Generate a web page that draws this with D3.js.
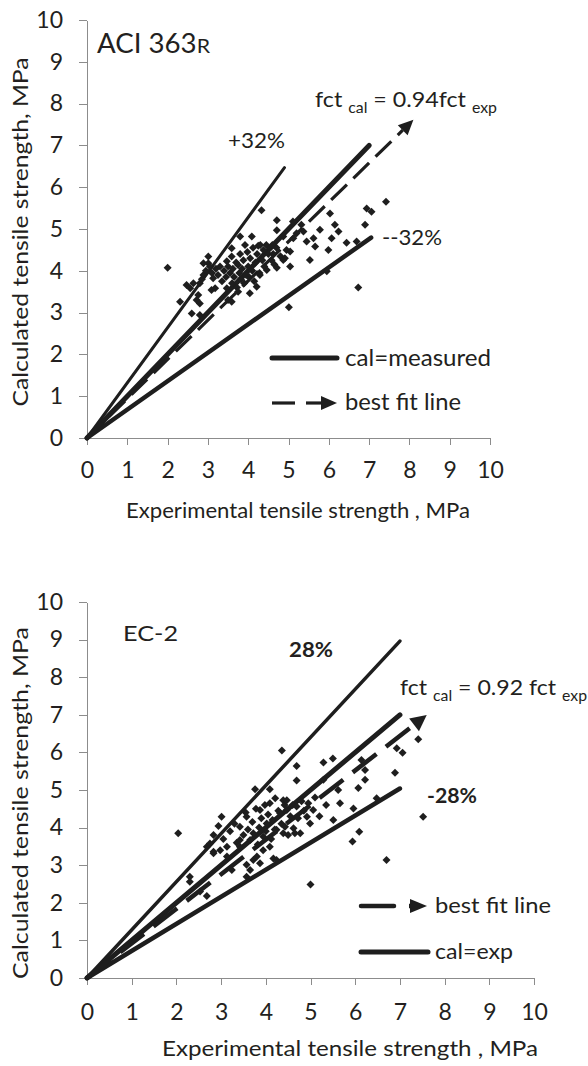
<!DOCTYPE html>
<html><head><meta charset="utf-8">
<script src="https://cdn.jsdelivr.net/npm/d3@7"></script>
<style>
body{margin:0;background:#fff}
svg{display:block}
text{font-family:Lato,'Open Sans',sans-serif;fill:#231f20}
</style>
</head><body>
<svg id="c" width="588" height="1066"></svg>
<script>
// ---------- data ----------
const tickValues = [0,1,2,3,4,5,6,7,8,9,10];

// ACI 363R: experimental vs calculated tensile strength (MPa)
const aciExp = [2.0,2.31,2.47,2.56,2.60,2.64,2.72,2.76,2.80,2.80,2.80,2.85,2.89,2.89,2.95,3.01,3.01,3.05,3.09,3.10,
  3.13,3.18,3.20,3.25,3.30,3.35,3.40,3.45,3.47,3.47,3.50,3.50,3.55,3.59,3.59,3.59,3.60,3.62,3.65,3.70,
  3.72,3.75,3.75,3.78,3.80,3.80,3.82,3.85,3.88,3.90,3.92,3.95,3.98,4.00,4.02,4.04,4.05,4.09,4.10,4.12,
  4.15,4.18,4.21,4.22,4.25,4.28,4.29,4.30,4.33,4.35,4.38,4.40,4.45,4.46,4.50,4.55,4.58,4.60,4.62,4.65,
  4.70,4.71,4.71,4.71,4.80,4.87,4.87,4.91,4.95,5.01,5.04,5.04,5.11,5.12,5.20,5.32,5.37,5.45,5.53,5.62,
  5.66,5.78,5.95,5.99,6.03,6.07,6.15,6.24,6.44,6.69,6.73,6.90,6.94,7.06,7.42];
const aciCal = [4.07,3.26,3.66,3.58,2.98,3.70,3.30,3.42,3.70,3.22,2.94,3.80,4.18,3.90,4.00,4.34,4.18,4.10,3.54,3.95,
  3.82,3.58,4.05,3.90,4.10,3.75,4.00,3.85,4.23,3.58,3.30,4.10,3.95,4.54,4.34,3.26,3.70,4.05,3.85,4.20,
  3.60,4.14,3.50,3.95,4.82,4.40,3.80,4.05,4.25,3.70,4.62,3.90,4.45,4.10,3.85,3.46,4.30,4.82,4.00,4.55,
  3.75,4.20,3.62,4.40,4.60,3.95,3.90,4.62,5.45,4.25,4.50,4.10,4.62,4.02,4.40,4.55,4.25,4.62,4.40,4.15,
  4.55,5.21,4.97,4.07,4.35,4.82,4.26,4.30,4.50,3.13,4.46,4.10,5.18,4.78,4.90,5.10,4.94,4.70,4.26,4.78,
  4.58,4.98,3.99,4.50,5.37,4.78,5.10,4.94,4.67,4.70,3.60,5.10,5.49,5.41,5.65];

// EC-2
const ec2Exp = [2.04,2.30,2.30,2.53,2.68,2.68,2.75,2.83,2.83,2.83,2.94,2.98,3.01,3.05,3.13,3.13,3.20,3.24,3.30,3.35,
  3.42,3.42,3.42,3.50,3.55,3.57,3.57,3.57,3.60,3.65,3.65,3.70,3.72,3.72,3.76,3.78,3.80,3.82,3.85,3.87,
  3.87,3.90,3.94,3.94,3.98,4.00,4.02,4.05,4.09,4.09,4.09,4.12,4.15,4.17,4.20,4.21,4.24,4.24,4.28,4.32,
  4.35,4.36,4.39,4.39,4.42,4.43,4.47,4.47,4.50,4.55,4.60,4.62,4.65,4.69,4.69,4.69,4.72,4.77,4.80,4.85,
  4.92,4.95,4.99,5.00,5.06,5.10,5.20,5.29,5.29,5.35,5.50,5.51,5.62,5.66,5.94,5.96,6.07,6.09,6.14,6.22,
  6.22,6.48,6.70,6.89,6.93,7.06,7.41,7.52];
const ec2Cal = [3.85,2.69,2.56,2.30,2.18,3.49,3.58,3.80,3.36,3.32,4.04,3.40,4.29,3.70,3.23,3.49,3.90,2.87,4.10,3.60,
  3.49,4.02,3.67,3.80,4.40,4.29,3.01,2.69,3.95,3.67,2.87,4.15,3.85,3.14,5.02,4.50,3.23,3.55,4.00,4.47,
  3.05,4.25,3.76,3.40,4.60,3.90,4.11,4.35,5.02,4.65,3.49,3.70,4.20,3.18,3.95,4.78,3.94,3.14,4.45,4.38,
  4.10,6.05,4.73,3.85,4.60,4.02,4.47,4.73,3.80,4.30,4.60,3.98,3.85,5.64,5.25,4.56,4.25,3.85,4.70,4.45,
  4.29,4.65,4.11,2.49,4.47,4.80,4.30,5.73,5.27,4.60,5.84,4.20,5.00,4.65,3.63,4.51,5.05,3.89,5.80,5.53,
  5.27,4.78,3.14,5.46,6.11,5.99,6.35,4.29];

// reference lines: slope and end point (experimental value)
const aciSlopes = [1.32, 1.00, 0.68];
const aciEnds   = [4.9, 7.0, 7.05];
const aciFitSlope = 0.94, aciFitEnd = 8.1;
const ec2Slopes = [1.28, 1.00, 0.72];
const ec2Ends   = [7.0, 7.0, 7.0];
const ec2FitSlope = 0.92, ec2FitEnd = 7.6;

// ---------- drawing ----------
const svg = d3.select("#c");
const INK = "#1e1e1e";

function label(g, x, y, size, txt, width, bold){
  const el = g.append("text").attr("x",x).attr("y",y).attr("font-size",size).text(txt);
  if (bold) el.attr("font-weight","bold");
  if (width) el.attr("textLength",width).attr("lengthAdjust","spacingAndGlyphs");
  return el;
}

function drawChart(cfg){
  const g = svg.append("g");
  const x = d3.scaleLinear().domain([0,10]).range(cfg.xr);
  const y = d3.scaleLinear().domain([0,10]).range(cfg.yr);

  const ya = g.append("g").attr("transform",`translate(${cfg.xr[0]},0)`)
    .call(d3.axisLeft(y).tickValues(tickValues).tickSize(8).tickPadding(16).tickSizeOuter(0));
  const xa = g.append("g").attr("transform",`translate(0,${cfg.yr[0]})`)
    .call(d3.axisBottom(x).tickValues(tickValues).tickSize(7).tickPadding(cfg.xpad).tickSizeOuter(0));
  [ya,xa].forEach(a=>{
    a.selectAll("path,line").attr("stroke","#8c8c8c").attr("stroke-width",1).attr("shape-rendering","crispEdges");
    a.selectAll("text").attr("font-size",23).attr("fill","#231f20").style("font-family","Lato");
  });

  cfg.slopes.forEach((s,i)=>{
    g.append("line")
      .attr("x1",x(0)).attr("y1",y(0))
      .attr("x2",x(cfg.ends[i])).attr("y2",y(s*cfg.ends[i]))
      .attr("stroke",INK).attr("stroke-width",cfg.widths[i]).attr("stroke-linecap","round");
  });

  const fx = x(cfg.fitEnd), fy = y(cfg.fitSlope*cfg.fitEnd);
  const ox = x(0), oy = y(0);
  const L = Math.hypot(fx-ox, fy-oy), ux=(fx-ox)/L, uy=(fy-oy)/L;
  const ah = cfg.arrowLen, aw = cfg.arrowW;
  const bx = fx-ux*ah, by = fy-uy*ah;
  g.append("line").attr("x1",ox).attr("y1",oy).attr("x2",bx).attr("y2",by)
    .attr("stroke",INK).attr("stroke-width",cfg.dashW).attr("stroke-dasharray",cfg.dash);
  g.append("path")
    .attr("d",`M${fx},${fy}L${bx-uy*aw},${by+ux*aw}L${bx+uy*aw},${by-ux*aw}Z`)
    .attr("fill",INK);

  const sym = d3.symbol().type(d3.symbolSquare).size(32);
  g.append("g").selectAll("path").data(cfg.xs.map((v,i)=>[v,cfg.ys[i]])).join("path")
    .attr("d",sym)
    .attr("transform",d=>`translate(${x(d[0])},${y(d[1])}) rotate(45)`)
    .attr("fill",INK);

  g.append("text").attr("x",cfg.xt[0]).attr("y",cfg.xt[1]).attr("font-size",21)
    .attr("text-anchor","middle").attr("textLength",cfg.xt[2]).attr("lengthAdjust","spacingAndGlyphs")
    .text("Experimental tensile strength , MPa");
  g.append("text").attr("transform",`translate(${cfg.yt[0]},${cfg.yt[1]}) rotate(-90)`).attr("font-size",22)
    .attr("text-anchor","middle").attr("textLength",cfg.yt[2]).attr("lengthAdjust","spacingAndGlyphs")
    .text("Calculated  tensile  strength, MPa");
  return {g,x,y};
}

// ---- top: ACI 363R ----
const chartA = drawChart({
  xr:[87,490], yr:[438,20], xpad:17,
  slopes:aciSlopes, ends:aciEnds, widths:[3,5,4.5],
  fitSlope:aciFitSlope, fitEnd:aciFitEnd, dash:"22,9", dashW:3.2, arrowLen:15, arrowW:7,
  xs:aciExp, ys:aciCal,
  xt:[298,518,344], yt:[28,232,349]
});
const t = chartA.g;
label(t,97,53,26,"ACI 363",113).append("tspan").attr("font-size",20).text("R");
label(t,228,148,22,"+32%",57);
label(t,382,245,22,"--32%",60);
const f1 = label(t,315,107,22,"",182);
f1.append("tspan").text("fct ");
f1.append("tspan").attr("font-size",15).attr("dy",6).text("cal");
f1.append("tspan").attr("dy",-6).text(" = 0.94fct ");
f1.append("tspan").attr("font-size",15).attr("dy",6).text("exp");
t.append("line").attr("x1",272).attr("x2",337).attr("y1",358).attr("y2",358)
  .attr("stroke",INK).attr("stroke-width",5).attr("stroke-linecap","round");
label(t,345,366,23,"cal=measured",146);
t.append("line").attr("x1",272).attr("x2",295).attr("y1",403).attr("y2",403)
  .attr("stroke",INK).attr("stroke-width",3.2);
t.append("line").attr("x1",306).attr("x2",322).attr("y1",403).attr("y2",403)
  .attr("stroke",INK).attr("stroke-width",3.2);
t.append("path").attr("d","M337,403L321,396L321,410Z").attr("fill",INK);
label(t,345,410,23,"best fit line",116);

// ---- bottom: EC-2 ----
const chartB = drawChart({
  xr:[87,534], yr:[978,602], xpad:19,
  slopes:ec2Slopes, ends:ec2Ends, widths:[3.5,5,4.5],
  fitSlope:ec2FitSlope, fitEnd:ec2FitEnd, dash:"30,12", dashW:4.5, arrowLen:16, arrowW:8,
  xs:ec2Exp, ys:ec2Cal,
  xt:[350,1056,376], yt:[28,803,352]
});
const b = chartB.g;
label(b,123,641,21,"EC-2",55);
label(b,289,657,21,"28%",44,true);
label(b,427,803,21,"-28%",50,true);
const f2 = label(b,400,695,22,"",187);
f2.append("tspan").text("fct ");
f2.append("tspan").attr("font-size",15).attr("dy",6).text("cal");
f2.append("tspan").attr("dy",-6).text(" = 0.92 fct ");
f2.append("tspan").attr("font-size",15).attr("dy",6).text("exp");
b.append("line").attr("x1",361).attr("x2",394).attr("y1",906).attr("y2",906)
  .attr("stroke",INK).attr("stroke-width",4.5).attr("stroke-linecap","round");
b.append("path").attr("d","M427,906L410,899L410,913Z").attr("fill",INK);
b.append("line").attr("x1",409).attr("x2",413).attr("y1",906).attr("y2",906)
  .attr("stroke",INK).attr("stroke-width",4.5);
label(b,435,913,22,"best fit line",116);
b.append("line").attr("x1",361).attr("x2",428).attr("y1",952).attr("y2",952)
  .attr("stroke",INK).attr("stroke-width",5).attr("stroke-linecap","round");
label(b,435,959,22,"cal=exp",78);
</script>
</body></html>
